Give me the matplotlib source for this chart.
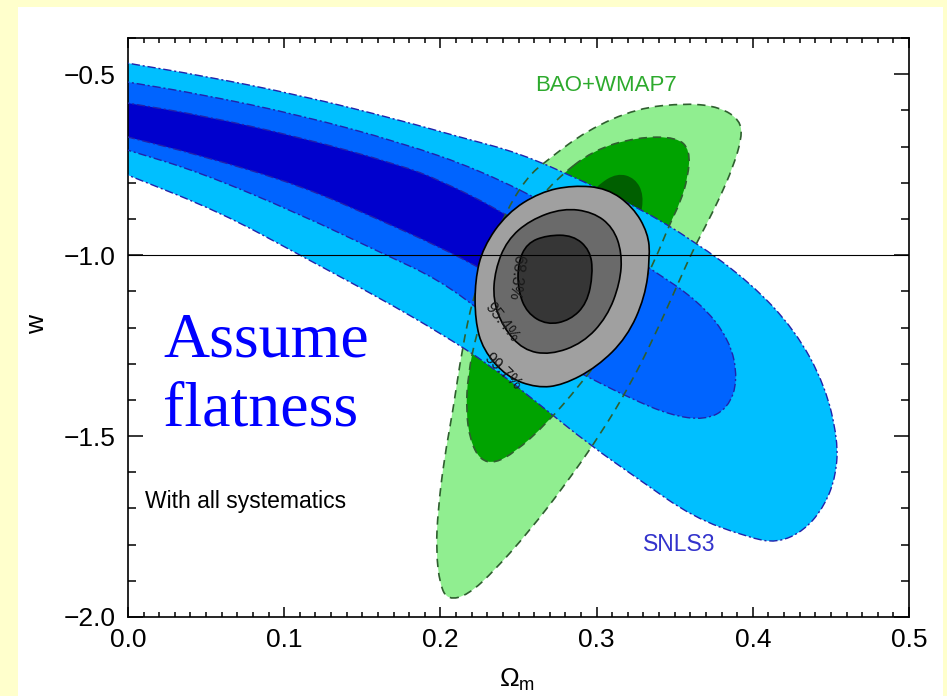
import numpy as np
import matplotlib.pyplot as plt
from matplotlib.path import Path
from matplotlib.patches import PathPatch, Rectangle

plt.rcParams['font.family'] = ['Liberation Sans', 'DejaVu Sans']
plt.rcParams['mathtext.fontset'] = 'custom'
plt.rcParams['mathtext.rm'] = 'Liberation Sans'
plt.rcParams['mathtext.it'] = 'Liberation Sans:italic'

# ---- contour boundaries (Omega_m, w) ----
# SNLS3 (blue), 99.7 / 95.4 / 68.3 %
snls_997_om = [-0.0064, 0.0, 0.0461, 0.1101, 0.1741, 0.2125, 0.2510, 0.2939, 0.3259, 0.3617,
               0.3982, 0.4270, 0.4462, 0.4545, 0.4533, 0.4462, 0.4334, 0.4155, 0.3963, 0.3617,
               0.3278, 0.2958, 0.2638, 0.2318, 0.1997, 0.1613, 0.1101, 0.0589, 0.0, -0.0064]
snls_997_w = [-0.464, -0.470, -0.503, -0.558, -0.627, -0.674, -0.718, -0.801, -0.867, -0.959,
              -1.075, -1.207, -1.359, -1.511, -1.608, -1.691, -1.760, -1.796, -1.779, -1.724,
              -1.622, -1.525, -1.414, -1.304, -1.215, -1.119, -1.000, -0.881, -0.779, -0.768]

snls_954_om = [-0.0064, 0.0, 0.0461, 0.1101, 0.1741, 0.2254, 0.2766, 0.3342, 0.3662, 0.3854,
               0.3905, 0.3841, 0.3694, 0.3470, 0.3214, 0.2958, 0.2638, 0.2318, 0.1997, 0.1613,
               0.1101, 0.0461, 0.0, -0.0064]
snls_954_w = [-0.517, -0.522, -0.555, -0.613, -0.688, -0.765, -0.876, -1.036, -1.130, -1.235,
              -1.345, -1.423, -1.456, -1.442, -1.395, -1.340, -1.268, -1.174, -1.069, -0.992,
              -0.887, -0.771, -0.710, -0.702]

snls_683_om = [-0.0064, 0.0, 0.0461, 0.1101, 0.1741, 0.1997, 0.2382, 0.2766, 0.3022, 0.3086,
               0.2990, 0.2766, 0.2510, 0.2254, 0.1997, 0.1613, 0.1101, 0.0461, 0.0, -0.0064]
snls_683_w = [-0.575, -0.580, -0.613, -0.674, -0.751, -0.793, -0.876, -0.981, -1.069, -1.124,
              -1.174, -1.157, -1.097, -1.036, -0.978, -0.903, -0.807, -0.724, -0.674, -0.666]

# BAO+WMAP7 (green)
bao_997_om = [0.2049, 0.1997, 0.1972, 0.1985, 0.2023, 0.2081, 0.2138, 0.2209, 0.2305, 0.2414,
              0.2554, 0.2682, 0.2939, 0.3259, 0.3579, 0.3790, 0.3918, 0.3931, 0.3873, 0.3790,
              0.3707, 0.3617, 0.3502, 0.3374, 0.3214, 0.3022, 0.2798, 0.2574, 0.2350, 0.2177]
bao_997_w = [-1.953, -1.912, -1.815, -1.704, -1.566, -1.428, -1.262, -1.116, -1.000, -0.884,
             -0.785, -0.738, -0.655, -0.594, -0.580, -0.591, -0.627, -0.674, -0.757, -0.840,
             -0.912, -0.986, -1.097, -1.221, -1.359, -1.497, -1.635, -1.760, -1.870, -1.939]

bao_954_om = [0.2977, 0.3259, 0.3515, 0.3598, 0.3585, 0.3534, 0.3470, 0.3374, 0.3246, 0.3086,
              0.2894, 0.2670, 0.2478, 0.2350, 0.2254, 0.2190, 0.2164, 0.2177, 0.2228, 0.2318,
              0.2426, 0.2561, 0.2734]
bao_954_w = [-0.710, -0.674, -0.674, -0.710, -0.785, -0.856, -0.912, -1.014, -1.124, -1.249,
             -1.359, -1.470, -1.544, -1.575, -1.566, -1.511, -1.428, -1.331, -1.221, -1.097,
             -0.986, -0.881, -0.793]

bao_683_om = [0.3003, 0.3131, 0.3246, 0.3303, 0.3278, 0.3182, 0.3054, 0.2894, 0.2734, 0.2606,
              0.2561, 0.2606, 0.2702, 0.2830]
bao_683_w = [-0.807, -0.773, -0.787, -0.834, -0.903, -1.000, -1.097, -1.193, -1.249, -1.249,
             -1.193, -1.097, -0.986, -0.890]

# combined (grey)
comb_997_om = [0.2222, 0.2273, 0.2426, 0.2638, 0.2849, 0.3067, 0.3233, 0.3329, 0.3342, 0.3310,
               0.3195, 0.3003, 0.2785, 0.2618, 0.2426, 0.2273, 0.2222]
comb_997_w = [-1.069, -0.978, -0.884, -0.826, -0.807, -0.815, -0.867, -0.939, -1.006, -1.116,
              -1.227, -1.309, -1.359, -1.367, -1.337, -1.262, -1.180]

comb_954_om = [0.2350, 0.2426, 0.2574, 0.2785, 0.2977, 0.3105, 0.3163, 0.3150, 0.3067, 0.2913,
               0.2702, 0.2529, 0.2401, 0.2337]
comb_954_w = [-1.041, -0.959, -0.903, -0.870, -0.881, -0.923, -0.994, -1.077, -1.171, -1.243,
              -1.276, -1.262, -1.199, -1.124]

comb_683_om = [0.2497, 0.2554, 0.2682, 0.2849, 0.2958, 0.2977, 0.2939, 0.2830, 0.2682, 0.2554, 0.2497]
comb_683_w = [-1.022, -0.967, -0.945, -0.945, -0.986, -1.050, -1.133, -1.180, -1.193, -1.160, -1.097]

# contour labels on the combined contours: (text, Omega_m, w, angle)
clabels = [("68.3%", 0.2485, -1.061, -97), ("95.4%", 0.2394, -1.185, -52), ("99.7%", 0.2401, -1.323, -44)]


def smooth_path(om, w):
    # closed quadratic-bezier path through the midpoints of the read points
    pts = np.column_stack([om, w])
    mids = (pts + np.roll(pts, -1, axis=0)) / 2
    verts = [mids[-1]]
    codes = [Path.MOVETO]
    for p, m in zip(pts, mids):
        verts += [p, m]
        codes += [Path.CURVE3, Path.CURVE3]
    return Path(verts, codes)


def region(ax, om, w, color, z):
    ax.add_patch(PathPatch(smooth_path(om, w), facecolor=color, edgecolor='none', zorder=z))


def outline(ax, om, w, color, ls, lw, z):
    ax.add_patch(PathPatch(smooth_path(om, w), facecolor='none', edgecolor=color,
                           linestyle=ls, linewidth=lw, zorder=z))


fig = plt.figure(figsize=(9.47, 6.96), dpi=100, facecolor='#FFFFCC')
fig.patches.append(Rectangle((18 / 947, 0), 925 / 947, 689 / 696, transform=fig.transFigure,
                             facecolor='white', edgecolor='none', zorder=-10))
ax = fig.add_axes([128 / 947, 1 - 617 / 696, 781 / 947, 579 / 696])
ax.set_zorder(1)

# green (under blue)
region(ax, bao_997_om, bao_997_w, '#90EE90', 1)
region(ax, bao_954_om, bao_954_w, '#00A300', 1.1)
region(ax, bao_683_om, bao_683_w, '#005F00', 1.2)

# blue
region(ax, snls_997_om, snls_997_w, '#00BFFF', 2)
region(ax, snls_954_om, snls_954_w, '#0064FF', 2.1)
region(ax, snls_683_om, snls_683_w, '#0000CD', 2.2)

dashdot = (0, (6, 2, 1.5, 2))
for om, w in [(snls_997_om, snls_997_w), (snls_954_om, snls_954_w), (snls_683_om, snls_683_w)]:
    outline(ax, om, w, '#2222AA', dashdot, 1.0, 3)
for om, w in [(bao_997_om, bao_997_w), (bao_954_om, bao_954_w)]:
    outline(ax, om, w, '#2F5F2F', (0, (5, 3.5)), 1.2, 3.1)

# combined (grey, on top)
region(ax, comb_997_om, comb_997_w, '#A0A0A0', 4)
region(ax, comb_954_om, comb_954_w, '#6A6A6A', 4.1)
region(ax, comb_683_om, comb_683_w, '#363636', 4.2)
for om, w in [(comb_997_om, comb_997_w), (comb_954_om, comb_954_w), (comb_683_om, comb_683_w)]:
    outline(ax, om, w, 'black', '-', 1.2, 5)
for txt, x, y, ang in clabels:
    ax.text(x, y, txt, rotation=ang, fontsize=11.5, ha='center', va='center',
            rotation_mode='anchor', color='#1A1A1A', zorder=6)

ax.axhline(-1.0, color='black', lw=0.8, zorder=7)

ax.text(0.2606, -0.530, "BAO+WMAP7", color='#2DAA2D', fontsize=16, ha='left', va='center')
ax.text(0.3297, -1.801, "SNLS3", color='#3333CC', fontsize=16.5, ha='left', va='center')
ax.text(0.0109, -1.680, "With all systematics", color='black', fontsize=16.5, ha='left', va='center')
ax.text(0.0224, -1.279, "Assume", color='#0000FF', fontsize=46, family='Liberation Serif',
        ha='left', va='baseline')
ax.text(0.0224, -1.472, "flatness", color='#0000FF', fontsize=46, family='Liberation Serif',
        ha='left', va='baseline')

ax.set_xlim(0, 0.5)
ax.set_ylim(-2.0, -0.4)
ax.set_xticks(np.arange(0, 0.51, 0.1))
ax.set_xticks(np.arange(0, 0.501, 0.01), minor=True)
ax.set_yticks([-2.0, -1.5, -1.0, -0.5])
ax.set_yticks(np.arange(-2.0, -0.39, 0.1), minor=True)
ax.set_xticklabels(["0.0", "0.1", "0.2", "0.3", "0.4", "0.5"])
ax.set_yticklabels(["\u22122.0", "\u22121.5", "\u22121.0", "\u22120.5"])
ax.tick_params(which='both', direction='in', top=True, right=True, labelsize=19, width=1.1)
ax.tick_params(axis='x', which='major', length=7, pad=8)
ax.tick_params(axis='x', which='minor', length=3.5)
ax.tick_params(axis='y', which='major', length=11, pad=9)
ax.tick_params(axis='y', which='minor', length=6)
for s in ax.spines.values():
    s.set_linewidth(1.2)

fig.text(37 / 947, 1 - 325 / 696, "w", rotation=90, fontsize=19, ha='center', va='center')
fig.text(517 / 947, 1 - 680 / 696, r"$\Omega_\mathrm{m}$", fontsize=19, ha='center', va='center')

fig.savefig("out.png", dpi=100, facecolor=fig.get_facecolor())
